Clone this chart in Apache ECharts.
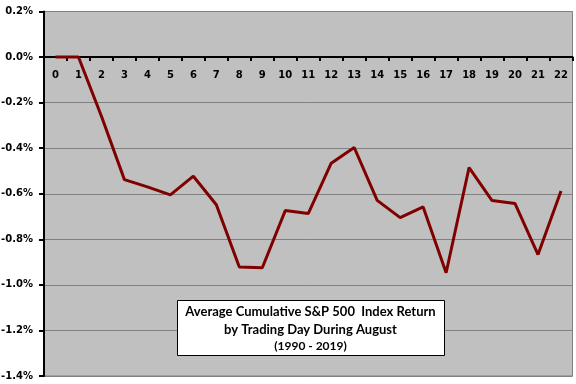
<!DOCTYPE html>
<html>
<head>
<meta charset="utf-8">
<script src="https://cdn.jsdelivr.net/npm/echarts@6/dist/echarts.min.js"></script>
<style>html,body{margin:0;padding:0;background:#fff}#c{width:576px;height:384px}</style>
</head>
<body>
<div id="c"></div>
<script>
const days = ['0','1','2','3','4','5','6','7','8','9','10','11','12','13','14','15','16','17','18','19','20','21','22'];
const cumReturn = [0, 0, -0.26, -0.538, -0.57, -0.605, -0.523, -0.648, -0.922, -0.925, -0.674, -0.687, -0.466, -0.397, -0.629, -0.705, -0.658, -0.947, -0.485, -0.63, -0.643, -0.867, -0.588];
const titleLines = ['Average Cumulative S&P 500  Index Return', 'by Trading Day During August', '(1990 - 2019)'];
const yMin = -1.4, yMax = 0.2;

const gridTop = 11.5, gridBottom = 8, H = 384;
const plotH = H - gridTop - gridBottom;
const zeroOffset = -plotH * (0 - yMin) / (yMax - yMin);

const chart = echarts.init(document.getElementById('c'), null, {renderer: 'canvas'});
chart.setOption({
  animation: false,
  backgroundColor: '#ffffff',
  grid: {left: 44, right: 3.5, top: gridTop, bottom: gridBottom, show: true, backgroundColor: '#C0C0C0', borderColor: '#808080', borderWidth: 1, containLabel: false, outerBoundsMode: 'none'},
  xAxis: {
    type: 'category', data: days, boundaryGap: true, position: 'bottom', offset: zeroOffset, z: 1,
    axisLine: {onZero: false, lineStyle: {color: '#000', width: 2}},
    axisTick: {show: true, length: 4, alignWithLabel: false, lineStyle: {color: '#000', width: 2}},
    axisLabel: {show: true, margin: 13, color: '#000', fontFamily: 'DejaVu Sans', fontWeight: 'bold', fontSize: 10, interval: 0},
    splitLine: {show: false}
  },
  yAxis: {
    type: 'value', min: yMin, max: yMax, interval: 0.2,
    axisLine: {show: true, lineStyle: {color: '#000', width: 2}},
    axisTick: {show: true, length: 5, lineStyle: {color: '#000', width: 2}},
    axisLabel: {margin: 11, color: '#000', fontFamily: 'DejaVu Sans', fontWeight: 'bold', fontSize: 10,
      formatter: v => { let r = Math.round(v * 10) / 10; if (Math.abs(r) < 1e-9) r = 0; return r.toFixed(1) + '%'; }},
    splitLine: {show: true, lineStyle: {color: '#808080', width: 1}}
  },
  series: [{
    type: 'line', data: cumReturn, symbol: 'none', z: 5,
    lineStyle: {color: '#800000', width: 3}, itemStyle: {color: '#800000'}
  }],
  graphic: [
    {type: 'rect', left: 177, top: 300, shape: {width: 267, height: 55}, style: {fill: '#fff', stroke: '#000', lineWidth: 1}, z: 100},
    {type: 'text', x: 310.5, y: 312, style: {text: titleLines[0], fill: '#000', font: 'bold 13px Lato', align: 'center', verticalAlign: 'middle'}, z: 101},
    {type: 'text', x: 310.5, y: 329.5, style: {text: titleLines[1], fill: '#000', font: 'bold 13px Lato', align: 'center', verticalAlign: 'middle'}, z: 101},
    {type: 'text', x: 310.5, y: 346, style: {text: titleLines[2], fill: '#000', font: 'bold 12px Lato', align: 'center', verticalAlign: 'middle'}, z: 101}
  ]
});
</script>
</body>
</html>
